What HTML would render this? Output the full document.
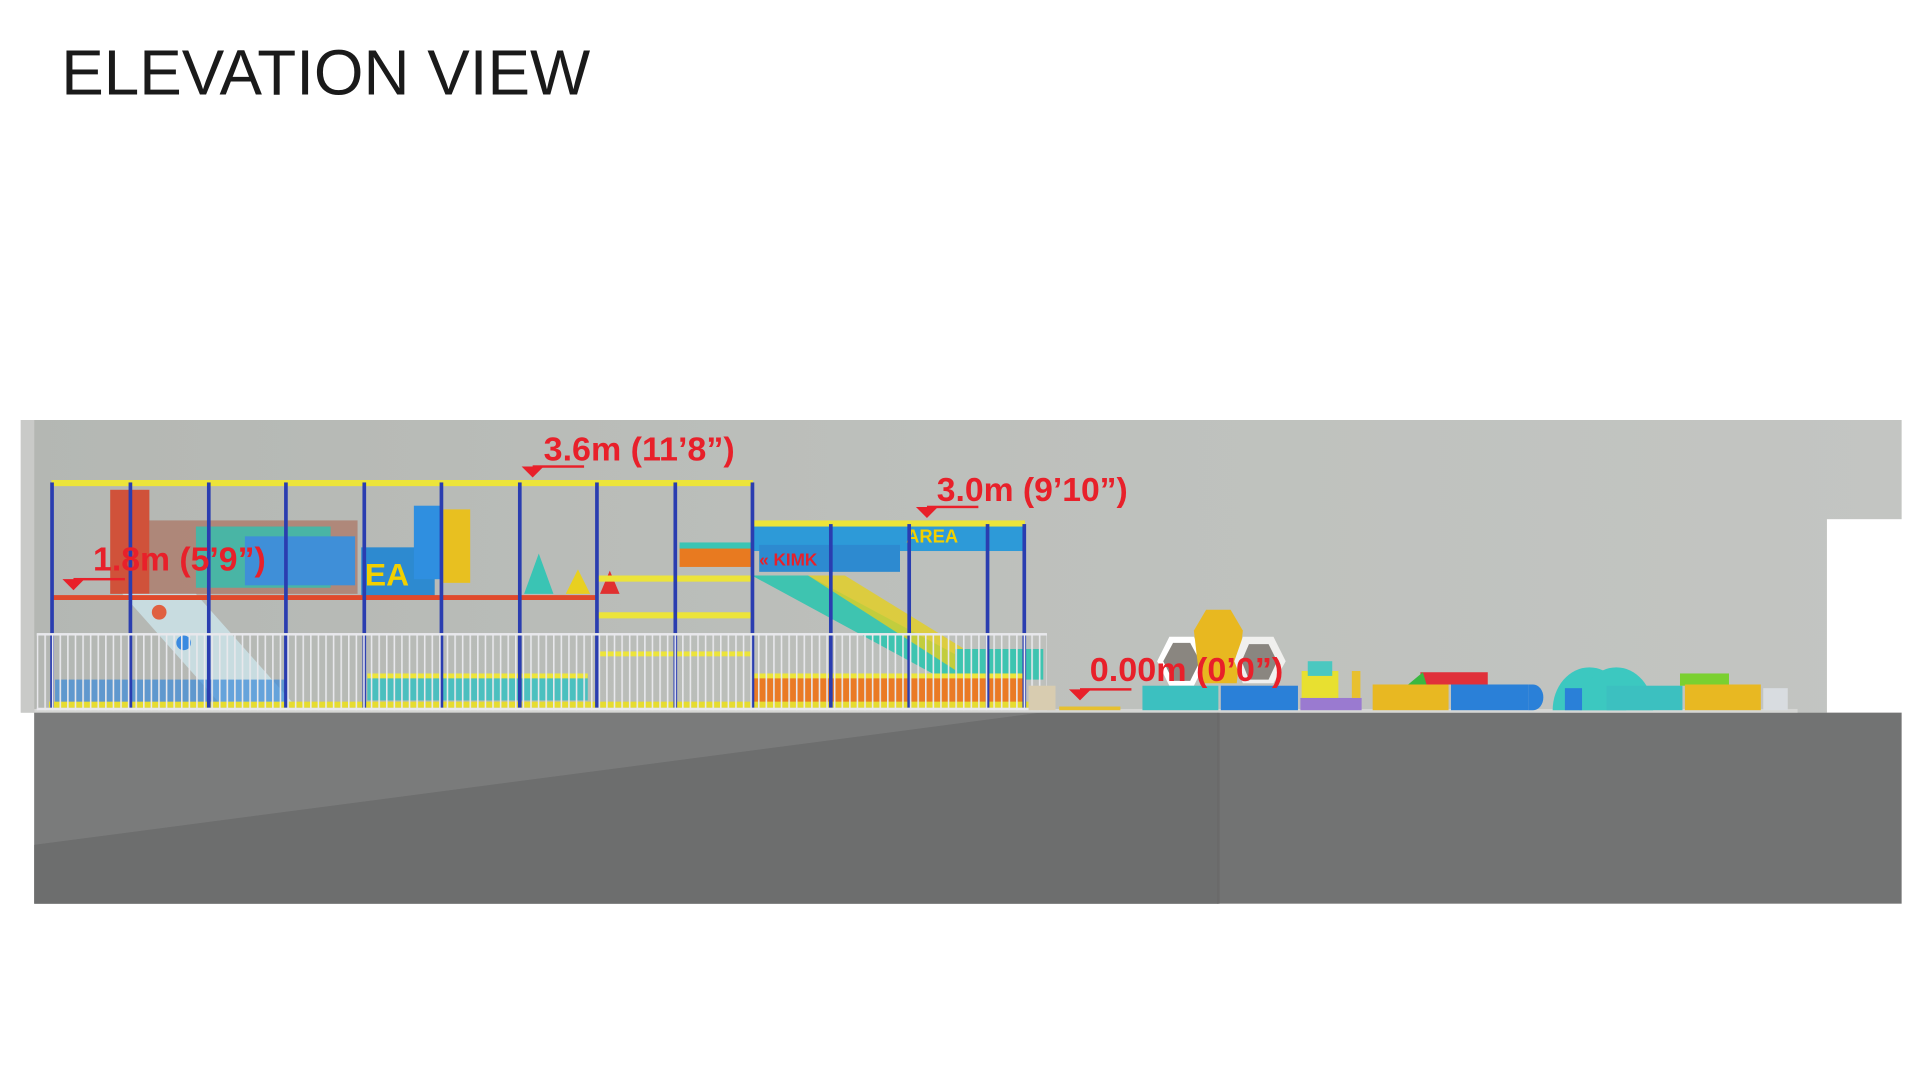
<!DOCTYPE html>
<html><head><meta charset="utf-8"><style>
html,body{margin:0;padding:0;background:#fff;width:1920px;height:1080px;overflow:hidden}
svg{display:block}
.t{font-family:"Liberation Sans Narrow","Liberation Sans",sans-serif;font-weight:bold;fill:#e8202a}
</style></head><body>
<svg width="1920" height="1080" viewBox="0 0 1568 882" xmlns="http://www.w3.org/2000/svg">
<defs>
<linearGradient id="wall" x1="0" x2="1" y1="0" y2="0">
<stop offset="0" stop-color="#b4b7b3"/><stop offset="0.5" stop-color="#bdc0bc"/><stop offset="1" stop-color="#c3c5c2"/></linearGradient>
<pattern id="fence" width="6.2" height="70" patternUnits="userSpaceOnUse" x="30">
<rect x="0" y="0" width="1.3" height="70" fill="#e8e8ec"/></pattern>
</defs>
<text x="50" y="77" font-family="'Liberation Sans',sans-serif" font-size="52" fill="#1a1a1a" textLength="432" lengthAdjust="spacingAndGlyphs">ELEVATION VIEW</text>
<!-- wall -->
<rect x="17" y="343" width="1536" height="239" fill="url(#wall)"/>
<rect x="17" y="343" width="11" height="239" fill="#c9cac8"/>
<rect x="1492" y="424" width="62" height="158" fill="#fff"/>
<!-- floor -->
<rect x="28" y="582" width="1525" height="156" fill="#727373"/>
<polygon points="28,582 850,582 28,690" fill="#7a7b7b"/>
<rect x="28" y="690" width="967" height="48" fill="#6c6d6d"/>
<polygon points="28,690 850,582 995,582 995,738 28,738" fill="#6d6e6e"/>
<rect x="994" y="582" width="2" height="156" fill="#6a6a6a"/>
<rect x="28" y="579" width="1440" height="3" fill="#d5d6d4"/>
<!-- big structure contents -->
<rect x="90" y="400" width="32" height="85" fill="#d0523a"/>
<rect x="122" y="425" width="170" height="60" fill="#a8553d" opacity="0.5"/>
<rect x="160" y="430" width="110" height="50" fill="#2fc0b0" opacity="0.8"/>
<rect x="200" y="438" width="90" height="40" fill="#3f8fd8"/>
<rect x="295" y="447" width="60" height="40" fill="#2d8ad0"/>
<text x="298" y="478" class="t" style="fill:#f2d000" font-size="26">EA</text>
<rect x="338" y="413" width="22" height="60" fill="#2f8fe0"/>
<rect x="362" y="416" width="22" height="60" fill="#e8c020"/>
<polygon points="440,452 428,485 452,485" fill="#3ac4b4"/>
<polygon points="472,465 462,485 482,485" fill="#e8d020"/>
<polygon points="498,466 490,485 506,485" fill="#e03030"/>
<polygon points="100,485 160,485 240,575 180,575" fill="#c8dce0"/>
<circle cx="130" cy="500" r="6" fill="#e06040"/><circle cx="150" cy="525" r="6" fill="#3a8ae0"/>
<rect x="555" y="445" width="60" height="18" fill="#e87a20"/>
<rect x="555" y="443" width="60" height="5" fill="#3ac4b4"/>
<!-- second structure -->
<rect x="614" y="430" width="222" height="20" fill="#2d9ad8"/>
<rect x="620" y="445" width="115" height="22" fill="#2d8ad0"/>
<text x="740" y="443" class="t" style="fill:#f2d000" font-size="15">AREA</text>
<text x="620" y="462" class="t" font-size="14">« KIMK</text>
<polygon points="614,470 660,470 800,545 780,560" fill="#3ec4b0"/>
<polygon points="660,470 690,470 820,550 800,560" fill="#e4d020" opacity="0.8"/>
<rect x="780" y="530" width="72" height="25" fill="#3ec4b0"/>
<rect x="615" y="553" width="222" height="24" fill="#ea7a25"/>
<!-- rails -->
<rect x="42" y="392" width="573" height="5" fill="#ece43a"/>
<rect x="614" y="425" width="223" height="5" fill="#ece43a"/>
<rect x="42" y="486" width="445" height="4" fill="#e04a2c"/>
<rect x="487" y="470" width="127" height="5" fill="#ece43a"/>
<rect x="487" y="500" width="127" height="5" fill="#ece43a"/>
<rect x="487" y="532" width="127" height="4" fill="#ece43a"/>
<rect x="615" y="550" width="222" height="4" fill="#ece43a"/>
<rect x="40" y="573" width="800" height="5" fill="#e6dc30"/>
<rect x="45" y="555" width="190" height="18" fill="#3a8ad8" opacity="0.7"/>
<rect x="300" y="552" width="180" height="20" fill="#2fc0c0" opacity="0.8"/>
<rect x="300" y="550" width="180" height="4" fill="#ece43a"/>
<g fill="#2a3db0">
<rect x="41" y="394" width="3" height="184"/><rect x="105" y="394" width="3" height="184"/>
<rect x="169" y="394" width="3" height="184"/><rect x="232" y="394" width="3" height="184"/>
<rect x="296" y="394" width="3" height="184"/><rect x="359" y="394" width="3" height="184"/>
<rect x="423" y="394" width="3" height="184"/><rect x="486" y="394" width="3" height="184"/>
<rect x="550" y="394" width="3" height="184"/><rect x="613" y="394" width="3" height="184"/>
<rect x="677" y="428" width="3" height="150"/><rect x="741" y="428" width="3" height="150"/>
<rect x="805" y="428" width="3" height="150"/><rect x="835" y="428" width="3" height="150"/>
</g>
<!-- fence -->
<rect x="30" y="518" width="825" height="62" fill="url(#fence)"/>
<rect x="30" y="517" width="825" height="2" fill="#e8e8ec"/>
<rect x="30" y="578" width="825" height="2" fill="#e8e8ec"/>
<rect x="840" y="560" width="22" height="20" fill="#d8ccb0"/>
<rect x="865" y="577" width="50" height="3" fill="#e6c030"/>
<!-- soft play -->
<polygon points="955,520 975,520 985,540 975,560 955,560 945,540" fill="#fff"/>
<polygon points="958,525 972,525 980,540 972,556 958,556 950,540" fill="#8a8680"/>
<polygon points="985,498 1005,498 1015,515 1010,558 980,558 975,515" fill="#e8b820"/>
<polygon points="1015,520 1040,520 1050,540 1040,558 1015,558 1008,540" fill="#f0f0ee"/>
<polygon points="1020,526 1036,526 1043,540 1036,555 1020,555 1014,540" fill="#8a8680"/>
<rect x="933" y="560" width="62" height="20" fill="#3cc0c0"/>
<rect x="997" y="560" width="63" height="20" fill="#2a80d8"/>
<rect x="1063" y="548" width="30" height="22" fill="#e8e030"/>
<rect x="1068" y="540" width="20" height="12" fill="#4ac8c0"/>
<rect x="1062" y="570" width="50" height="10" fill="#9a7ad0"/>
<rect x="1104" y="548" width="7" height="22" fill="#e8c030"/>
<rect x="1160" y="549" width="55" height="10" fill="#e0303a"/>
<polygon points="1150,559 1162,549 1165,559" fill="#3ab840"/>
<rect x="1121" y="559" width="62" height="21" fill="#e8b822"/>
<rect x="1185" y="559" width="63" height="21" fill="#2a80d8"/>
<path d="M1248,559 h4 a8 10 0 0 1 0 21 h-4z" fill="#2a80d8"/>
<path d="M1268,580 a30 35 0 0 1 60 0z" fill="#3cc8c0"/>
<path d="M1290,580 a30 35 0 0 1 60 0z" fill="#3cc8c0"/>
<rect x="1278" y="562" width="14" height="18" fill="#2a80d8"/>
<rect x="1312" y="560" width="62" height="20" fill="#3cc0c0"/>
<rect x="1372" y="550" width="40" height="10" fill="#7ad030"/>
<rect x="1376" y="559" width="62" height="21" fill="#e8b822"/>
<rect x="1440" y="562" width="20" height="18" fill="#d8dce0"/>
<!-- labels -->
<g class="t">
<text x="444" y="376" font-size="27" textLength="156" lengthAdjust="spacingAndGlyphs">3.6m (11’8”)</text>
<text x="765" y="409" font-size="27" textLength="156" lengthAdjust="spacingAndGlyphs">3.0m (9’10”)</text>
<text x="76" y="466" font-size="27" textLength="141" lengthAdjust="spacingAndGlyphs">1.8m (5’9”)</text>
<text x="890" y="556" font-size="27" textLength="158" lengthAdjust="spacingAndGlyphs">0.00m (0’0”)</text>
</g>
<g fill="#e8202a">
<polygon points="426,381 444,381 435,390"/><rect x="435" y="380" width="42" height="2"/>
<polygon points="748,414 766,414 757,423"/><rect x="757" y="413" width="42" height="2"/>
<polygon points="51,473 69,473 60,482"/><rect x="60" y="472" width="42" height="2"/>
<polygon points="873,563 891,563 882,572"/><rect x="882" y="562" width="42" height="2"/>
</g>
</svg>
</body></html>
